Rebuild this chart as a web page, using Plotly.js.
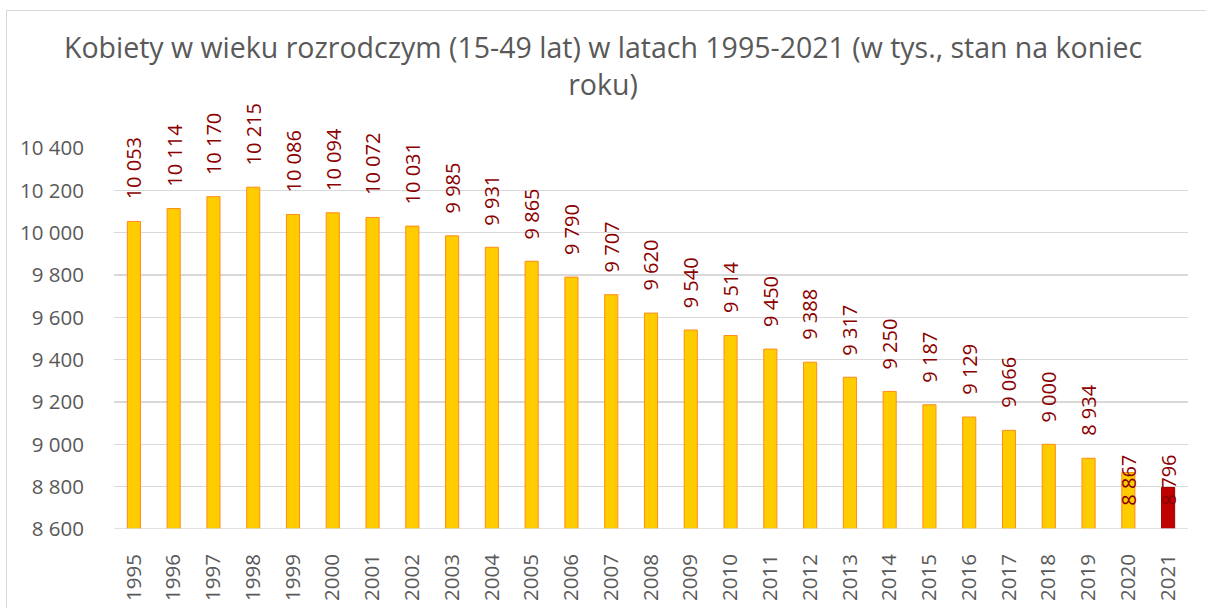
<!DOCTYPE html>
<html>
<head>
<meta charset="utf-8">
<script src="https://cdn.plot.ly/plotly-3.0.1.min.js"></script>
<style>
  html, body { margin: 0; padding: 0; background: #fff; }
  #wrap { position: relative; width: 1206px; height: 608px; overflow: hidden; }
  #chart { width: 1206px; height: 608px; }
  #frame { position: absolute; left: 6px; top: 10px; width: 1300px; height: 700px; border: 1.5px solid #d9d9d9; pointer-events: none; }
</style>
</head>
<body>
<div id="wrap">
  <div id="chart"></div>
  <div id="frame"></div>
</div>
<script>
const years = ['1995','1996','1997','1998','1999','2000','2001','2002','2003','2004','2005','2006','2007','2008','2009','2010','2011','2012','2013','2014','2015','2016','2017','2018','2019','2020','2021'];
const women = [10053,10114,10170,10215,10086,10094,10072,10031,9985,9931,9865,9790,9707,9620,9540,9514,9450,9388,9317,9250,9187,9129,9066,9000,8934,8867,8796];
const highlightYear = '2021';

const fmt = v => {
  const s = String(v);
  return s.length > 3 ? s.slice(0, s.length - 3) + ' ' + s.slice(-3) : s;
};

const fillColors = years.map(y => y === highlightYear ? '#C00000' : '#FFCC00');
const lineColors = years.map(y => y === highlightYear ? '#A00000' : '#FF8C1A');

const FONT = 'Open Sans, Noto Sans, sans-serif';

const annotations = years.map((y, i) => {
  const lowLabel = i >= years.length - 2;
  return {
    x: i, y: lowLabel ? 8700 : women[i],
    xref: 'x', yref: 'y',
    text: fmt(women[i]),
    textangle: -90,
    showarrow: false,
    xanchor: 'center', yanchor: 'bottom',
    yshift: lowLabel ? 0 : 20,
    font: { family: FONT, size: 20, color: '#8B0000' }
  };
});

const trace = {
  type: 'bar',
  x: years,
  y: women,
  marker: { color: fillColors, line: { color: lineColors, width: 1 } },
  hoverinfo: 'x+y'
};

const layout = {
  width: 1206, height: 608,
  margin: { l: 114, r: 18, t: 148, b: 79 },
  paper_bgcolor: '#ffffff', plot_bgcolor: '#ffffff',
  separators: ', ',
  bargap: 0.67,
  showlegend: false,
  title: {
    text: 'Kobiety w wieku rozrodczym (15-49 lat) w latach 1995-2021 (w tys., stan na koniec<br>roku)',
    font: { family: FONT, size: 28.5, color: '#595959' },
    x: 0.5, xanchor: 'center', xref: 'container',
    y: 0.905, yanchor: 'top', yref: 'container'
  },
  xaxis: {
    type: 'category',
    range: [-0.5, years.length - 0.5],
    tickangle: -90,
    tickfont: { family: FONT, size: 20.5, color: '#595959' },
    ticklabelstandoff: 20,
    showgrid: false,
    showline: false,
    ticks: ''
  },
  yaxis: {
    range: [8600, 10400],
    tickvals: [8600, 8800, 9000, 9200, 9400, 9600, 9800, 10000, 10200, 10400],
    ticktext: ['8 600','8 800','9 000','9 200','9 400','9 600','9 800','10 000','10 200','10 400'],
    tickfont: { family: FONT, size: 20.5, color: '#595959' },
    ticklabelstandoff: 29,
    showgrid: true, gridcolor: '#d9d9d9', gridwidth: 1.3,
    zeroline: false, showline: false, ticks: ''
  },
  annotations: annotations,
  shapes: [{
    type: 'line', xref: 'paper', yref: 'y', x0: 0, x1: 1, y0: 8600, y1: 8600,
    line: { color: '#d9d9d9', width: 1.5 }
  }]
};

Plotly.newPlot('chart', [trace], layout, { displayModeBar: false, staticPlot: true });
</script>
</body>
</html>
